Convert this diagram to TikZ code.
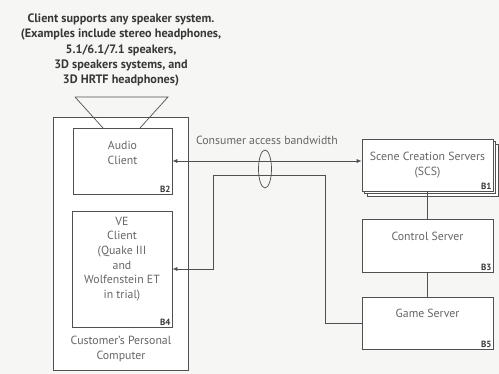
\documentclass[tikz,border=0pt]{standalone}
\usepackage{fontspec}
\setmainfont{PT Sans}
\usetikzlibrary{arrows.meta,shadows,shapes.geometric}
\definecolor{linecol}{HTML}{505050}
\definecolor{txtcol}{HTML}{666666}
\definecolor{boldcol}{HTML}{383838}
\definecolor{paper}{HTML}{F6F6F4}
\begin{document}
\begin{tikzpicture}[x=1pt,y=-1pt,
  box/.style={draw=linecol, line width=0.7pt, fill=white, rectangle,
    minimum width=#1, inner sep=0pt, text=txtcol, font=\fontsize{11.8}{14.6}\selectfont, align=center},
  tag/.style={anchor=south east, inner sep=1.6pt, text=boldcol, font=\bfseries\fontsize{9}{10}\selectfont},
  conn/.style={draw=linecol, line width=0.7pt},
]
\useasboundingbox (0,0) rectangle (499,374);
\fill[paper] (0,0) rectangle (499,374);

% speaker description
\node[text=boldcol, font=\bfseries\fontsize{12.2}{15.2}\selectfont, align=center, inner sep=0pt] (title) at (121,50)
  {Client supports any speaker system.\\(Examples include stereo headphones,\\5.1/6.1/7.1 speakers,\\3D speakers systems, and\\3D HRTF headphones)};

% customer's personal computer
\node[box=135pt, minimum height=253pt] (pc) at (120.5,243.5) {};
\node[text=txtcol, font=\fontsize{11.8}{15}\selectfont, align=center] (pclabel) at (121,349)
  {Customer's Personal\\Computer};

\node[box=99pt, minimum height=66pt] (audio) at (122.5,161) {Audio\\Client\\[2pt]};
\node[tag] at (audio.south east) {B2};

\node[box=100pt, minimum height=116pt] (ve) at (122,269)
  {VE\\Client\\(Quake III\\and\\Wolfenstein ET\\in trial)\\[8pt]};
\node[tag] at (ve.south east) {B4};

% speaker
\draw[conn, line join=miter] (75,97) -- (168,97) -- (140,128);
\draw[conn] (75,97) -- (103,128);

% servers (stacked box for the server farm)
\node[box=131pt, minimum height=52pt,
  double copy shadow={shadow xshift=2.5pt, shadow yshift=-2.5pt, draw=linecol, fill=white, line width=0.6pt}]
  (scs) at (427.5,165) {Scene Creation Servers\\(SCS)};
\node[tag] at (scs.south east) {B1};

\node[box=131pt, minimum height=53pt] (ctrl) at (427.5,245.5) {Control Server\\[4pt]};
\node[tag] at (ctrl.south east) {B3};

\node[box=131pt, minimum height=52pt] (game) at (427.5,323) {Game Server\\[4pt]};
\node[tag] at (game.south east) {B5};

% links
\draw[conn, {Latex[length=5pt,width=4pt]}-{Latex[length=5pt,width=4pt]}] (audio.east) -- (audio.east -| scs.west);
\coordinate (j1) at (213,175);
\coordinate (j2) at (325,175);
\draw[conn, {Latex[length=5pt,width=4pt]}-] (ve.east) -| (j1) -- (j2) |- (game.west);
\draw[conn] (scs.south) -- (ctrl.north);
\draw[conn] (ctrl.south) -- (game.north);

\node[draw=linecol, line width=0.7pt, ellipse, minimum width=13pt, minimum height=38pt, inner sep=0pt] (bw) at (265,169) {};
\node[text=txtcol, font=\fontsize{11.8}{12}\selectfont] (bwlabel) at (267,140) {Consumer access bandwidth};
\end{tikzpicture}
\end{document}
